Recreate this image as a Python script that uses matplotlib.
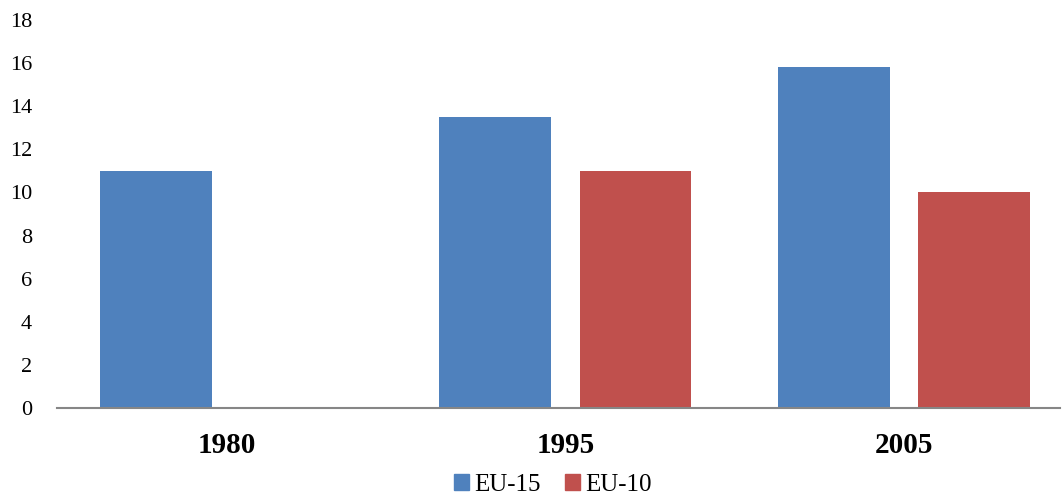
import numpy as np
import matplotlib.pyplot as plt
from matplotlib.patches import Patch

years = ["1980", "1995", "2005"]
eu15 = [11.0, 13.5, 15.8]
eu10 = [np.nan, 11.0, 10.0]
series_names = ["EU-15", "EU-10"]
yticks = [0, 2, 4, 6, 8, 10, 12, 14, 16, 18]

BLUE = "#4F81BD"
RED = "#C0504D"

plt.rcParams["font.family"] = ["Liberation Serif", "DejaVu Serif"]

fig = plt.figure(figsize=(10.63, 4.95), dpi=100)
ax = fig.add_axes([0.0536, 0.1758, 0.9434, 0.7838])

x = np.arange(len(years))
width = 0.33
ax.bar(x - 0.207, eu15, width, color=BLUE)
ax.bar(x + 0.207, eu10, width, color=RED)

ax.set_xlim(-0.5, 2.459)
ax.set_ylim(0, 18)
ax.set_yticks(yticks)
ax.set_yticklabels([str(t) for t in yticks], fontsize=16)
ax.set_xticks(x)
ax.set_xticklabels(years, fontsize=21, fontweight="bold")
ax.tick_params(axis="y", length=0, pad=18)
ax.tick_params(axis="x", length=0, pad=17)

for side in ["top", "right", "left"]:
    ax.spines[side].set_visible(False)
ax.spines["bottom"].set_color("#868686")
ax.spines["bottom"].set_linewidth(1.5)

handles = [Patch(color=BLUE), Patch(color=RED)]
fig.legend(handles, series_names, loc="lower center", bbox_to_anchor=(0.52, -0.047),
           ncol=2, frameon=False, fontsize=18, handlelength=0.6, handleheight=0.6,
           handletextpad=0.2, columnspacing=1.0)

fig.savefig("out.png", dpi=100)
